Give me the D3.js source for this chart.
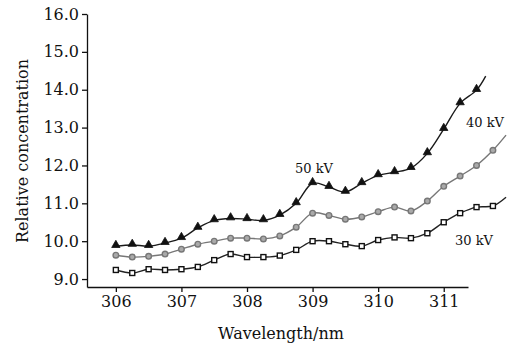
<!DOCTYPE html>
<html>
<head>
<meta charset="utf-8">
<script src="https://cdn.jsdelivr.net/npm/d3@7"></script>
<style>
  body { margin: 0; background: #fff; }
  text { font-family: "DejaVu Serif", "Liberation Serif", serif; fill: #111; }
</style>
</head>
<body>
<div id="chart"></div>
<script>
// wavelengths (nm), one every 0.25 nm, plus where each line ends
const wavelengths = [306, 306.25, 306.5, 306.75, 307, 307.25, 307.5, 307.75, 308, 308.25, 308.5,
    308.75, 309, 309.25, 309.5, 309.75, 310, 310.25, 310.5, 310.75, 311, 311.25, 311.5, 311.75];

const kv50 = [9.87, 9.9, 9.87, 9.95, 10.08, 10.35, 10.55, 10.6, 10.58, 10.55, 10.69,
    11.0, 11.53, 11.43, 11.3, 11.53, 11.74, 11.82, 11.93, 12.32, 12.96, 13.64, 13.99];
const kv50End = [311.64, 14.36];

const kv40 = [9.63, 9.58, 9.6, 9.66, 9.79, 9.92, 10.0, 10.08, 10.08, 10.06, 10.14,
    10.37, 10.74, 10.68, 10.58, 10.64, 10.78, 10.9, 10.8, 11.06, 11.45, 11.72, 12.0, 12.4];
const kv40End = [311.95, 12.8];

const kv30 = [9.24, 9.16, 9.26, 9.24, 9.26, 9.32, 9.5, 9.66, 9.58, 9.58, 9.62,
    9.77, 10.0, 10.0, 9.92, 9.87, 10.03, 10.1, 10.08, 10.21, 10.5, 10.74, 10.9, 10.93];
const kv30End = [311.95, 11.16];

const yTicks = [9, 10, 11, 12, 13, 14, 15, 16];
const xTicks = [306, 307, 308, 309, 310, 311];

const W = 512, H = 347;
const svg = d3.select("#chart").append("svg")
    .attr("width", W)
    .attr("height", H);

const x = d3.scaleLinear().domain([305.56, 311.37]).range([87, 468]);
const y = d3.scaleLinear().domain([8.79, 16]).range([287, 14]);

// axes
const xAxis = d3.axisBottom(x).tickValues(xTicks).tickSize(5).tickSizeOuter(0).tickPadding(4)
    .tickFormat(d3.format("d"));
const yAxis = d3.axisLeft(y).tickValues(yTicks).tickSize(5).tickSizeOuter(0).tickPadding(3)
    .tickFormat(d3.format(".1f"));

svg.append("g")
    .attr("transform", "translate(0,287)")
    .call(xAxis)
    .call(g => g.selectAll("text").style("font-size", "16px").style("font-family", "DejaVu Serif").attr("fill", "#111"));

svg.append("g")
    .attr("transform", "translate(87,0)")
    .call(yAxis)
    .call(g => g.selectAll("text").style("font-size", "16px").style("font-family", "DejaVu Serif").attr("fill", "#111"));

svg.selectAll(".domain, .tick line").attr("stroke", "#111").attr("stroke-width", 1.3);

// axis titles
svg.append("text")
    .attr("x", 281).attr("y", 339)
    .attr("text-anchor", "middle")
    .style("font-size", "16px")
    .text("Wavelength/nm");

svg.append("text")
    .attr("transform", "translate(28,151) rotate(-90)")
    .attr("text-anchor", "middle")
    .style("font-size", "16px")
    .text("Relative concentration");

// series
function pts(vals, end) {
    let p = vals.map((v, i) => [wavelengths[i], v]);
    return { marks: p, line: p.concat([end]) };
}

const series = [
    { name: "30 kV", d: pts(kv30, kv30End), stroke: "#222", marker: "square" },
    { name: "40 kV", d: pts(kv40, kv40End), stroke: "#777", marker: "circle" },
    { name: "50 kV", d: pts(kv50, kv50End), stroke: "#1a1a1a", marker: "triangle" }
];

const line = d3.line()
    .x(d => x(d[0]))
    .y(d => y(d[1]))
    .curve(d3.curveCatmullRom.alpha(0.5));

series.forEach(s => {
    svg.append("path")
        .datum(s.d.line)
        .attr("fill", "none")
        .attr("stroke", s.stroke)
        .attr("stroke-width", 1.4)
        .attr("d", line);

    let g = svg.append("g");
    if (s.marker === "square") {
        g.selectAll("rect").data(s.d.marks).join("rect")
            .attr("x", d => x(d[0]) - 2.5)
            .attr("y", d => y(d[1]) - 2.5)
            .attr("width", 5).attr("height", 5)
            .attr("fill", "#fff")
            .attr("stroke", "#111")
            .attr("stroke-width", 1.4);
    } else if (s.marker === "circle") {
        g.selectAll("circle").data(s.d.marks).join("circle")
            .attr("cx", d => x(d[0]))
            .attr("cy", d => y(d[1]))
            .attr("r", 2.8)
            .attr("fill", "#aaa")
            .attr("stroke", "#777")
            .attr("stroke-width", 1.4);
    } else {
        const tri = d3.symbol().type(d3.symbolTriangle).size(30);
        g.selectAll("path").data(s.d.marks).join("path")
            .attr("transform", d => `translate(${x(d[0])},${y(d[1]) - 1})`)
            .attr("d", tri)
            .attr("fill", "#111")
            .attr("stroke", "#111")
            .attr("stroke-width", 0.8);
    }
});

// series labels
const labels = [
    { t: "50 kV", x: 295, y: 173 },
    { t: "40 kV", x: 466, y: 127 },
    { t: "30 kV", x: 455, y: 245 }
];
svg.selectAll(".lab").data(labels).join("text")
    .attr("class", "lab")
    .attr("x", d => d.x).attr("y", d => d.y)
    .style("font-size", "13px")
    .text(d => d.t);
</script>
</body>
</html>
